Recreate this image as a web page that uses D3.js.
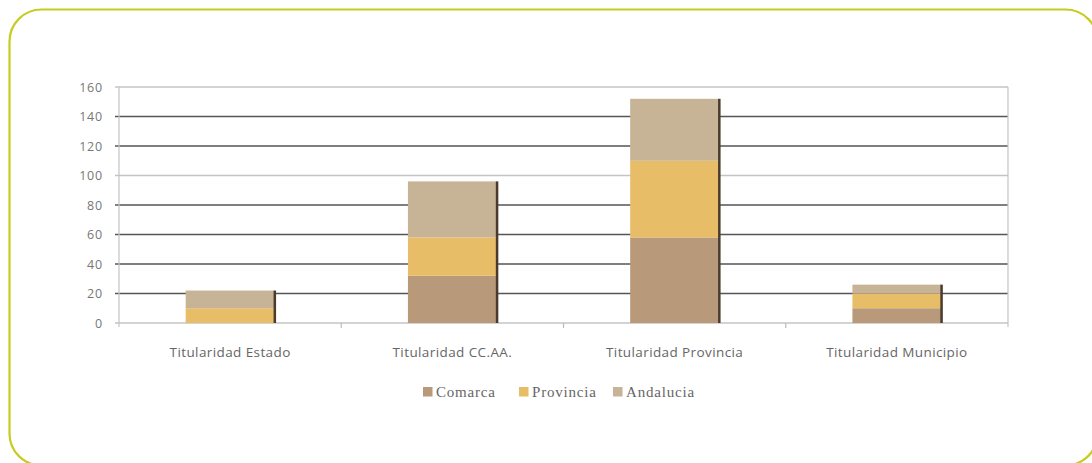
<!DOCTYPE html>
<html><head><meta charset="utf-8">
<script src="https://cdn.jsdelivr.net/npm/d3@7"></script>
<style>
html,body{margin:0;padding:0;background:#fff;}
svg{display:block;}
</style></head>
<body>
<svg id="c" width="1092" height="463"></svg>
<script>
const categories = ["Titularidad Estado", "Titularidad CC.AA.", "Titularidad Provincia", "Titularidad Municipio"];
const seriesNames = ["Comarca", "Provincia", "Andalucia"];
const comarca = [0, 32, 58, 10];
const provincia = [10, 26, 52, 10];
const andalucia = [12, 38, 42, 6];
const yTicks = [0, 20, 40, 60, 80, 100, 120, 140, 160];
const colors = ["#b8997a", "#e8bd68", "#c7b396"];

const svg = d3.select("#c");
// rounded frame
svg.append("rect").attr("x", 9.5).attr("y", 9.5).attr("width", 1088).attr("height", 456)
  .attr("rx", 32).attr("ry", 32).attr("fill", "#fff").attr("stroke", "#c6cc22").attr("stroke-width", 2.2);

const x0 = 119, x1 = 1008, yb = 323, yt = 87;
const x = d3.scaleBand().domain(categories).range([x0, x1]).paddingInner(0.6).paddingOuter(0.3);
const y = d3.scaleLinear().domain([0, 160]).range([yb, yt]);

// gridlines
const light = new Set([0, 100, 160]);
svg.append("g").selectAll("line").data(yTicks).join("line")
  .attr("x1", x0 - 4).attr("x2", x1)
  .attr("y1", d => y(d)).attr("y2", d => y(d))
  .attr("stroke", d => light.has(d) ? "#c4c4c4" : "#555")
  .attr("stroke-width", 1.6);
// left & right verticals
svg.append("line").attr("x1", x0).attr("x2", x0).attr("y1", yt).attr("y2", yb + 4).attr("stroke", "#c4c4c4").attr("stroke-width", 1.2);
svg.append("line").attr("x1", x1).attr("x2", x1).attr("y1", yt).attr("y2", yb + 4).attr("stroke", "#c4c4c4").attr("stroke-width", 1.2);
// category ticks
const bw = (x1 - x0) / categories.length;
svg.append("g").selectAll("line").data(d3.range(1, categories.length)).join("line")
  .attr("x1", d => x0 + d * bw).attr("x2", d => x0 + d * bw)
  .attr("y1", yb).attr("y2", yb + 5).attr("stroke", "#bbb").attr("stroke-width", 1.2);

// y labels
svg.append("g").selectAll("text").data(yTicks).join("text")
  .attr("x", 103).attr("y", d => y(d) + 4.5).attr("text-anchor", "end")
  .attr("font-family", "Open Sans, sans-serif").attr("font-size", 12.5).attr("letter-spacing", 0.8).attr("fill", "#777")
  .text(d => d);

// stacked data
const rows = categories.map((c, i) => ({cat: c, Comarca: comarca[i], Provincia: provincia[i], Andalucia: andalucia[i]}));
const stack = d3.stack().keys(seriesNames)(rows);
const g = svg.append("g");
stack.forEach((layer, li) => {
  g.selectAll(null).data(layer).join("rect")
    .attr("x", d => x(d.data.cat)).attr("width", x.bandwidth())
    .attr("y", d => y(d[1])).attr("height", d => y(d[0]) - y(d[1]))
    .attr("fill", colors[li]);
});
// dark right edge
g.selectAll(null).data(rows).join("rect")
  .attr("x", d => x(d.cat) + x.bandwidth() - 1).attr("width", 2.5)
  .attr("y", d => y(d.Comarca + d.Provincia + d.Andalucia)).attr("height", d => yb - y(d.Comarca + d.Provincia + d.Andalucia))
  .attr("fill", "#4b3b2e");

// category labels
svg.append("g").selectAll("text").data(categories).join("text")
  .attr("x", d => x(d) + x.bandwidth() / 2).attr("y", 357).attr("text-anchor", "middle")
  .attr("font-family", "Open Sans, sans-serif").attr("font-size", 13.5).attr("letter-spacing", 0.4).attr("fill", "#666")
  .text(d => d);

// legend
const legX = [423, 519, 613];
const leg = svg.append("g");
seriesNames.forEach((s, i) => {
  leg.append("rect").attr("x", legX[i]).attr("y", 387).attr("width", 9.5).attr("height", 9.5).attr("fill", colors[i]);
  leg.append("text").attr("x", legX[i] + 13).attr("y", 397)
    .attr("font-family", "Liberation Serif, serif").attr("font-size", 15).attr("letter-spacing", 0.8).attr("fill", "#666").text(s);
});
</script>
</body></html>
